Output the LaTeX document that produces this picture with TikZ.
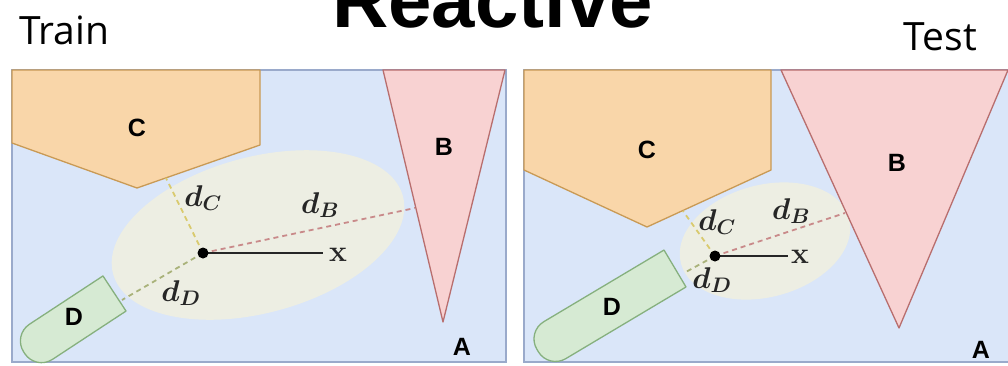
\RequirePackage{fix-cm}
\documentclass[tikz,border=0pt]{standalone}
\usepackage{fontspec}
\newfontfamily\titlefont{Liberation Sans}
\newfontfamily\uifont{Open Sans}
\definecolor{bgblue}{HTML}{DAE6F9}
\definecolor{panelline}{HTML}{9AAACB}
\definecolor{ellfill}{HTML}{EDEEE3}
\definecolor{cfill}{HTML}{F9D6A9}
\definecolor{cline}{HTML}{C99A55}
\definecolor{bfill}{HTML}{F8D2D2}
\definecolor{bline}{HTML}{B86E6E}
\definecolor{dfill}{HTML}{D6EAD3}
\definecolor{dline}{HTML}{86B07E}
\definecolor{dcline}{HTML}{D9CA6E}
\definecolor{dbline}{HTML}{C98A8A}
\definecolor{ddline}{HTML}{A9B27A}
\begin{document}
\begin{tikzpicture}[x=1pt,y=-1pt,
  panel/.style={fill=bgblue,draw=panelline,line width=1.3pt},
  ell/.style={fill=ellfill},
  cshape/.style={fill=cfill,draw=cline,line width=1.3pt,line join=round},
  bshape/.style={fill=bfill,draw=bline,line width=1.3pt,line join=round},
  dshape/.style={fill=dfill,draw=dline,line width=1.3pt,line join=round},
  dist/.style={dash pattern=on 5pt off 4pt,line width=1.8pt},
  lab/.style={font=\titlefont\bfseries\fontsize{25}{27}\selectfont,inner sep=0pt},
  dlab/.style={font=\fontsize{30}{33}\selectfont\boldmath,inner sep=0pt,text=black!85},
  dotpt/.style={circle,fill=black,inner sep=0pt,minimum size=11pt},
  arm/.style={line width=1.6pt,draw=black!85}
]
\useasboundingbox (0,0) rectangle (1008,365);
\clip (0,0) rectangle (1008,365);

% titles
\node[font=\titlefont\bfseries\fontsize{78}{80}\selectfont,anchor=base,inner sep=0pt] (title) at (492.5,27) {Reactive};
\node[font=\uifont\fontsize{39}{42}\selectfont,anchor=base west,inner sep=0pt] (train) at (19,44) {Train};
\node[font=\uifont\fontsize{39}{42}\selectfont,anchor=base east,inner sep=0pt] (test) at (977,50) {Test};

% ---------- left panel ----------
\draw[panel] (12,70) rectangle (506,362);
\fill[ell,rotate around={15:(258,235)}] (258,235) ellipse [x radius=150, y radius=78];
\draw[cshape] (12,70) -- (260,70) -- (260,145) -- (137,188) -- (12,143) -- cycle;
\draw[bshape] (383,70) -- (505,70) -- (443,322) -- cycle;
\begin{scope}[shift={(114.5,293.5)},rotate=33.3]
  \draw[dshape] (0,-21) -- (-88,-21) arc[start angle=90,end angle=180,radius=20pt]
     -- (-108,1) arc[start angle=180,end angle=270,radius=20pt] -- (0,21) -- cycle;
\end{scope}

\node[lab] (cL) at (137,128) {C};
\node[lab] (bL) at (444,147) {B};
\node[lab] (dL) at (74,317) {D};
\node[lab] (aL) at (462,347) {A};

\coordinate (pL) at (203,253);
\coordinate (cEndL) at (166,178);
\coordinate (bEndL) at (415,208);
\coordinate (dEndL) at (122,300);
\coordinate (xEndL) at (323,253);
\draw[dist,dcline] (pL) -- (cEndL);
\draw[dist,dbline] (pL) -- (bEndL);
\draw[dist,ddline] (pL) -- (dEndL);
\draw[arm] (pL) -- (xEndL);
\node[dotpt] (dotL) at (pL) {};
\node[dlab] (xL) at (338,255) {$\mathbf{x}$};
\node[dlab] (dcL) at (203,198) {$d_C$};
\node[dlab] (dbL) at (320,205) {$d_B$};
\node[dlab] (ddL) at (181,293) {$d_D$};

% ---------- right panel ----------
\draw[panel] (524,70) rectangle (1014,362);
\fill[ell,rotate around={15:(765,241)}] (765,241) ellipse [x radius=87, y radius=56];
\draw[cshape] (524,70) -- (771,70) -- (771,170) -- (647,227) -- (524,170) -- cycle;
\draw[bshape] (781,70) -- (1008,70) -- (899,328) -- cycle;
\begin{scope}[shift={(675,268.5)},rotate=30.8]
  \draw[dshape] (0,-21.5) -- (-140,-21.5) arc[start angle=90,end angle=180,radius=20pt]
     -- (-160,1.5) arc[start angle=180,end angle=270,radius=20pt] -- (0,21.5) -- cycle;
\end{scope}

\node[lab] (cR) at (647,150) {C};
\node[lab] (bR) at (897,163) {B};
\node[lab] (dR) at (612,307) {D};
\node[lab] (aR) at (981,350) {A};

\coordinate (pR) at (715,256);
\coordinate (cEndR) at (683,211);
\coordinate (bEndR) at (845,213);
\coordinate (dEndR) at (684,273);
\coordinate (xEndR) at (788,256);
\draw[dist,dcline] (pR) -- (cEndR);
\draw[dist,dbline] (pR) -- (bEndR);
\draw[dist,ddline] (pR) -- (dEndR);
\draw[arm] (pR) -- (xEndR);
\node[dotpt] (dotR) at (pR) {};
\node[dlab] (xR) at (800,257) {$\mathbf{x}$};
\node[dlab] (dcR) at (717,222) {$d_C$};
\node[dlab] (dbR) at (791,211) {$d_B$};
\node[dlab] (ddR) at (712,280) {$d_D$};
\end{tikzpicture}
\end{document}
